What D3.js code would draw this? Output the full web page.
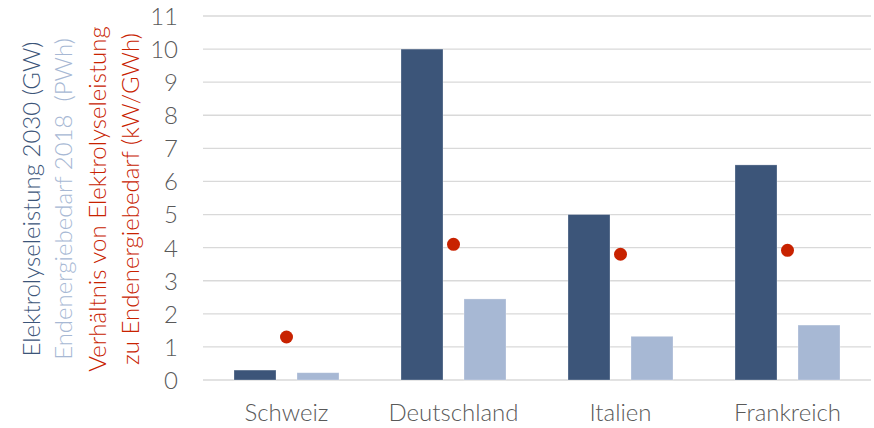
<!DOCTYPE html>
<html><head><meta charset="utf-8">
<script src="https://cdn.jsdelivr.net/npm/d3@7"></script>
<style>body{margin:0;background:#fff}svg{display:block}</style>
</head><body>
<svg id="c" width="874" height="428"></svg>
<script>
const categories = ["Schweiz", "Deutschland", "Italien", "Frankreich"];
const elektrolyse2030 = [0.3, 10, 5, 6.5];          // GW
const endenergie2018 = [0.22, 2.45, 1.32, 1.66];     // PWh
const verhaeltnis = [1.3, 4.1, 3.8, 3.92];           // kW/GWh
const yTicks = [0,1,2,3,4,5,6,7,8,9,10,11];
const titles = [
  {text: "Elektrolyseleistung 2030 (GW)", color: "#3C5579"},
  {text: "Endenergiebedarf 2018  (PWh)", color: "#A7B8D4"},
  {text: "Verhältnis von Elektrolyseleistung", color: "#C82200"},
  {text: "zu Endenergiebedarf (kW/GWh)", color: "#C82200"}
];

const svg = d3.select("#c");
const font = "Lato, 'Open Sans', sans-serif";
const pLeft = 203, pRight = 871, pTop = 16, pBottom = 380;

const x = d3.scaleBand().domain(categories).range([pLeft, pRight]).paddingInner(0).paddingOuter(0);
const y = d3.scaleLinear().domain([0, 11]).range([pBottom, pTop]);
const sub = d3.scaleBand().domain([0,1]).range([0, 105]).paddingInner(1/3);

// grid
svg.append("g").selectAll("line").data(yTicks).join("line")
  .attr("x1", pLeft).attr("x2", pRight)
  .attr("y1", d => y(d)).attr("y2", d => y(d))
  .attr("stroke", "#D9D9D9").attr("stroke-width", 1.3);

// y tick labels
const yAxis = d3.axisLeft(y).tickValues(yTicks).tickSize(0).tickPadding(0);
const ga = svg.append("g").attr("transform", `translate(178,0)`).call(yAxis);
ga.select(".domain").remove();
ga.selectAll("text").attr("fill", "#595959").style("font-family", font)
  .style("font-size", "24px").style("font-weight", 300).attr("dy", "0.35em");

// bars
const series = [elektrolyse2030, endenergie2018];
const colors = ["#3C5579", "#A7B8D4"];
series.forEach((vals, si) => {
  svg.append("g").selectAll("rect").data(vals).join("rect")
    .attr("x", (d, i) => x(categories[i]) + x.bandwidth()/2 - 52.5 + sub(si))
    .attr("width", sub.bandwidth())
    .attr("y", d => y(d))
    .attr("height", d => y(0) - y(d))
    .attr("fill", colors[si])
    .attr("stroke", "rgba(255,255,255,0.35)").attr("stroke-width", 0.8);
});

// dots
svg.append("g").selectAll("circle").data(verhaeltnis).join("circle")
  .attr("cx", (d, i) => x(categories[i]) + x.bandwidth()/2)
  .attr("cy", d => y(d))
  .attr("r", 6.5)
  .attr("fill", "#C82200");

// x labels
const xAxis = d3.axisBottom(x).tickSize(0).tickPadding(0);
const gx = svg.append("g").attr("transform", `translate(0,${pBottom})`).call(xAxis);
gx.select(".domain").remove();
gx.selectAll("text").attr("fill", "#595959").style("font-family", font)
  .style("font-size", "24px").style("font-weight", 300).attr("y", 0).attr("dy", 0)
  .attr("transform", "translate(0,41)");

// y titles
const tx = [40, 72, 106, 139];
titles.forEach((t, i) => {
  svg.append("text")
    .attr("transform", `translate(${tx[i]},199) rotate(-90)`)
    .attr("text-anchor", "middle")
    .attr("fill", t.color)
    .style("font-family", font).style("font-size", "24px").style("font-weight", 300)
    .style("white-space", "pre")
    .text(t.text);
});
</script>
</body></html>
